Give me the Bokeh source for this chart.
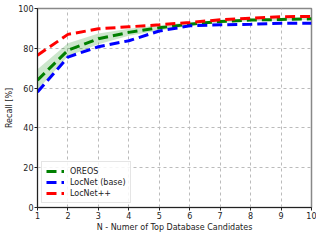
from bokeh.plotting import figure
from bokeh.models import FixedTicker, Range1d, Legend, LegendItem
from bokeh.embed import file_html
from bokeh.resources import INLINE

n_candidates = [1, 2, 3, 4, 5, 6, 7, 8, 9, 10]
oreos = [64.0, 79.0, 84.8, 88.0, 90.3, 92.1, 93.5, 94.2, 94.5, 94.8]
oreos_low = [59.0, 76.0, 82.0, 86.3, 89.0, 91.2, 92.8, 93.6, 94.0, 94.3]
oreos_high = [69.5, 82.5, 87.5, 89.8, 91.6, 93.0, 94.2, 94.8, 95.1, 95.4]
locnet = [58.0, 75.6, 80.8, 83.8, 88.7, 91.3, 91.8, 92.1, 92.6, 92.6]
locnet_pp = [76.5, 87.0, 89.8, 90.8, 91.8, 93.0, 94.3, 95.1, 95.9, 96.0]

x_ticks = [1, 2, 3, 4, 5, 6, 7, 8, 9, 10]
y_ticks = [0, 20, 40, 60, 80, 100]

FONT = "DejaVu Sans"

p = figure(width=316, height=234, output_backend="svg", toolbar_location=None,
           x_range=Range1d(1, 10), y_range=Range1d(0, 100),
           min_border_left=37, min_border_right=5, min_border_top=8, min_border_bottom=20)

p.varea(x=n_candidates, y1=oreos_low, y2=oreos_high, fill_color="#008000", fill_alpha=0.2)

dash = "10 5"
l_or = p.line(n_candidates, oreos, line_color="#008000", line_width=3, line_dash=dash)
l_ln = p.line(n_candidates, locnet, line_color="#0000ff", line_width=3, line_dash=dash)
l_pp = p.line(n_candidates, locnet_pp, line_color="#ff0000", line_width=3, line_dash=dash)

legend = Legend(items=[LegendItem(label="OREOS", renderers=[l_or]),
                       LegendItem(label="LocNet (base)", renderers=[l_ln]),
                       LegendItem(label="LocNet++", renderers=[l_pp])],
                location="bottom_left")
legend.label_text_font = FONT
legend.label_text_font_size = "8px"
legend.label_text_color = "#222222"
legend.glyph_width = 18
legend.glyph_height = 10
legend.label_height = 10
legend.spacing = 1
legend.padding = 4
legend.margin = 4
legend.label_standoff = 6
legend.border_line_color = "#cccccc"
legend.background_fill_alpha = 0.85
p.add_layout(legend)

p.xaxis.ticker = FixedTicker(ticks=x_ticks)
p.yaxis.ticker = FixedTicker(ticks=y_ticks)
p.xaxis.axis_label = "N - Numer of Top Database Candidates"
p.yaxis.axis_label = "Recall [%]"
for ax in (p.xaxis, p.yaxis):
    ax.axis_label_text_font = FONT
    ax.axis_label_text_font_size = "8px"
    ax.axis_label_text_font_style = "normal"
    ax.axis_label_text_color = "#222222"
    ax.major_label_text_font = FONT
    ax.major_label_text_font_size = "8px"
    ax.major_label_text_color = "#222222"
    ax.minor_tick_line_color = None
    ax.major_tick_in = 0
    ax.major_tick_out = 3
    ax.axis_line_color = "#222222"
    ax.major_tick_line_color = "#222222"
    ax.major_label_standoff = 1
    ax.axis_label_standoff = 1

p.xgrid.grid_line_dash = "3 3"
p.ygrid.grid_line_dash = "3 3"
p.xgrid.grid_line_color = "#bbbbbb"
p.ygrid.grid_line_color = "#bbbbbb"
p.outline_line_color = "#888888"
p.outline_line_width = 1.5

open("out.html", "w").write(file_html(p, INLINE))
